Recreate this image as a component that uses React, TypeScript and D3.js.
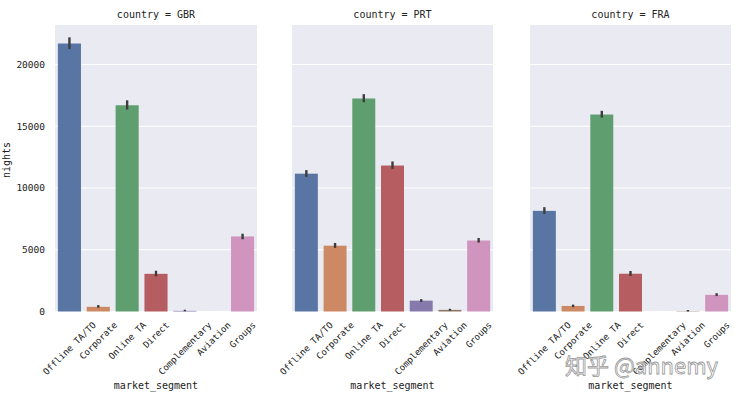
import * as d3 from 'd3'

const segments = ['Offline TA/TO', 'Corporate', 'Online TA', 'Direct', 'Complementary', 'Aviation', 'Groups']
const countries = ['GBR', 'PRT', 'FRA']

// mean nights per segment
const gbrNights = [21700, 380, 16700, 3050, 50, 0, 6080]
const prtNights = [11160, 5330, 17250, 11820, 880, 130, 5750]
const fraNights = [8150, 450, 15950, 3060, 0, 25, 1350]

// confidence interval (low, high)
const gbrLo = [21250, 300, 16350, 2850, 20, 0, 5850]
const gbrHi = [22200, 520, 17100, 3300, 100, 0, 6300]
const prtLo = [10900, 5150, 16950, 11550, 780, 60, 5580]
const prtHi = [11450, 5550, 17600, 12150, 1000, 220, 5950]
const fraLo = [7900, 350, 15700, 2880, 0, 0, 1250]
const fraHi = [8450, 560, 16250, 3280, 0, 80, 1480]

const yTicks = [0, 5000, 10000, 15000, 20000]

const colors = ['#5875a4', '#cc8963', '#5f9e6e', '#b55d60', '#857aab', '#8d7866', '#d095bf']

const panels = [
  { name: countries[0], values: gbrNights, lo: gbrLo, hi: gbrHi, x0: 55, x1: 257 },
  { name: countries[1], values: prtNights, lo: prtLo, hi: prtHi, x0: 292, x1: 493 },
  { name: countries[2], values: fraNights, lo: fraLo, hi: fraHi, x0: 530, x1: 731 },
]

const font = '"DejaVu Sans Mono", monospace'
const top = 25
const bottom = 311.5
const tickFs = 9
const charW = tickFs * 0.602

export default function App() {
  const y = d3.scaleLinear().domain([0, 23200]).range([bottom, top])

  return (
    <svg width={735} height={397} style={{ position: 'absolute', left: 0, top: 0, background: '#fff' }}
      fontFamily={font}>
      {panels.map((p, pi) => {
        const x = d3.scaleBand().domain(segments).range([p.x0, p.x1]).paddingInner(0.2).paddingOuter(0.1)
        const cx = (p.x0 + p.x1) / 2
        return (
          <g key={p.name}>
            <rect x={p.x0} y={top} width={p.x1 - p.x0} height={bottom - top} fill="#eaeaf2" />
            {yTicks.map(t => (
              <line key={t} x1={p.x0} x2={p.x1} y1={y(t)} y2={y(t)} stroke="#fff" strokeWidth={1.2} />
            ))}
            {segments.map((s, i) => (
              <rect key={s} x={x(s)} width={x.bandwidth()} y={y(p.values[i])}
                height={y(0) - y(p.values[i])} fill={colors[i]} />
            ))}
            {segments.map((s, i) => (
              p.hi[i] > 0 ? (
                <line key={s} x1={x(s)! + x.bandwidth() / 2} x2={x(s)! + x.bandwidth() / 2}
                  y1={y(p.lo[i])} y2={Math.min(y(p.hi[i]), y(p.lo[i]) - 1.5)} stroke="#3d3d3d" strokeWidth={2.4} />
              ) : null
            ))}
            <text x={cx} y={18} textAnchor="middle" fontSize={10} fill="#222">country = {p.name}</text>
            {segments.map(s => {
              // matplotlib-style: rotated label's bounding box centred on the tick
              const half = (s.length * charW / 2 + tickFs * 0.45) * Math.SQRT1_2
              const tx = x(s)! + x.bandwidth() / 2
              return (
                <text key={s} transform={`translate(${tx},${bottom + 9 + half}) rotate(-45)`} textAnchor="middle"
                  fontSize={tickFs} fill="#222" dy="0.35em">{s}</text>
              )
            })}
            <text x={cx} y={389} textAnchor="middle" fontSize={10} fill="#222">market_segment</text>
            {pi === 0 && yTicks.map(t => (
              <text key={t} x={45} y={y(t)} dy="0.35em" textAnchor="end" fontSize={9.5} fill="#222">{t}</text>
            ))}
          </g>
        )
      })}
      <text transform="translate(10,160) rotate(-90)" textAnchor="middle" fontSize={10} fill="#222">nights</text>
      <text x={565} y={374} fontSize={22} fill="#ffffff" fillOpacity={0.6} stroke="#999" strokeWidth={0.8}
        fontFamily='"Noto Sans CJK SC", sans-serif'>知乎 @annemy</text>
    </svg>
  )
}
